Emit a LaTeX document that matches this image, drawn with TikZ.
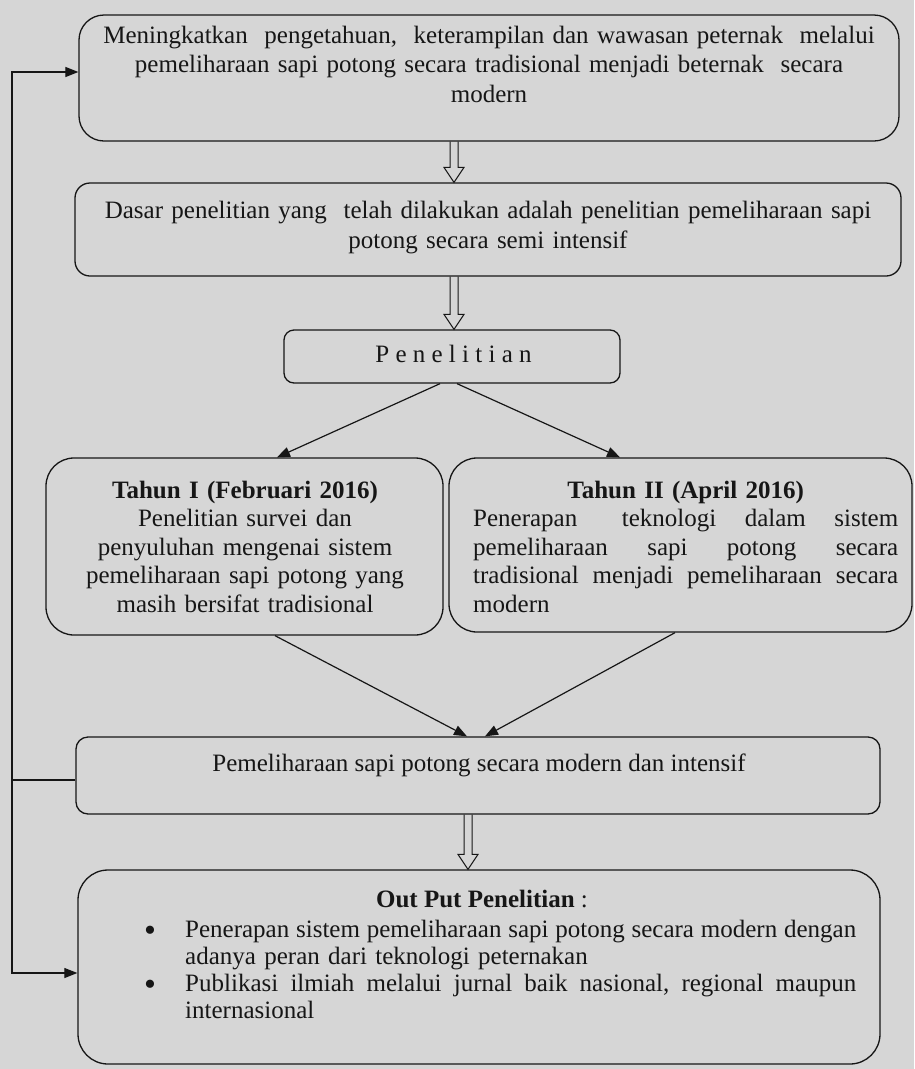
\documentclass[tikz,border=0pt]{standalone}
\usepackage{fontspec}
\setmainfont{Liberation Serif}
\usetikzlibrary{arrows.meta,calc,positioning}
\definecolor{kertas}{RGB}{214,214,214}
\definecolor{tinta}{RGB}{22,22,22}

\newcommand{\panahkosong}[3]{%
  \coordinate (pk) at (#1,0);
  \draw[garis kosong] ($(#2.south -| pk)+(-4,0)$) -- ($(#3.north -| pk)+(-4,-15)$) -- ++(-6,0) -- (#3.north -| pk) -- ($(#3.north -| pk)+(10,-15)$) -- ++(-6,0) -- ($(#2.south -| pk)+(4,0)$);}

\begin{document}
\begin{tikzpicture}[x=1pt, y=-1pt,
                    kotak/.style={draw=tinta, line width=1.3pt, inner sep=0pt},
                    teks/.style={text=tinta, inner sep=0pt, font=\fontsize{25}{28.5}\selectfont},
                    butir/.style={text=tinta, inner sep=0pt, font=\fontsize{34}{34}\selectfont, anchor=base},
                    panah/.style={draw=tinta, line width=1.2pt, -{Triangle[length=13pt,width=10pt]}},
                    garis/.style={draw=tinta, line width=1.2pt},
                    garis kosong/.style={draw=tinta, line width=1pt}]
                    \fill[kertas] (0,0) rectangle (914,1069);
                    \useasboundingbox (0,0) rectangle (914,1069);
                    \node[kotak, rounded corners=25pt, minimum width=820pt, minimum height=126pt] (tujuan) at (489,78) {};
                    \node[kotak, rounded corners=15pt, minimum width=826pt, minimum height=93pt] (dasar) at (488,229.5) {};
                    \node[kotak, rounded corners=10pt, minimum width=336pt, minimum height=53pt] (penelitian) at (452,356.5) {};
                    \node[kotak, rounded corners=28pt, minimum width=397pt, minimum height=177pt] (tahun1) at (244.5,546.5) {};
                    \node[kotak, rounded corners=28pt, minimum width=463pt, minimum height=174pt] (tahun2) at (680.5,545) {};
                    \node[kotak, rounded corners=12pt, minimum width=804pt, minimum height=77pt] (modern) at (478,775.5) {};
                    \node[kotak, rounded corners=30pt, minimum width=802pt, minimum height=194pt] (luaran) at (479,967) {};
                    \node[teks, font=\fontsize{25}{29.5}\selectfont, text width=810pt, align=center, anchor=base] (teks-tujuan) at (489,43)
                        {Meningkatkan\ \ pengetahuan,\ \ keterampilan dan wawasan peternak\ \ melalui\\
                         pemeliharaan sapi potong secara tradisional menjadi beternak\ \ secara\\
                         modern};
                    \node[teks, font=\fontsize{25}{30}\selectfont, text width=816pt, align=center, anchor=base] (teks-dasar) at (488,218)
                        {Dasar penelitian yang\ \ telah dilakukan adalah penelitian pemeliharaan sapi\\
                         potong secara semi intensif};
                    \node[teks, anchor=base] (teks-penelitian) at (453.5,362) {\addfontfeature{LetterSpace=25}Penelitian};
                    \node[teks, text width=390pt, align=center, anchor=base] (teks-tahun1) at (245,498)
                        {\textbf{Tahun I (Februari 2016)}\\
                         Penelitian survei dan\\
                         penyuluhan mengenai sistem\\
                         pemeliharaan sapi potong yang\\
                         masih bersifat tradisional};
                    \node[teks, text width=425pt, align=left, anchor=base west] (teks-tahun2) at (473,498)
                        {\makebox[425pt][c]{\textbf{Tahun II (April 2016)}}\\
                         \makebox[425pt][l]{Penerapan\hspace{16pt}\hfill teknologi\hfill dalam\hfill sistem}\\
                         \makebox[425pt][l]{pemeliharaan\hfill sapi\hfill potong\hfill secara}\\
                         \makebox[425pt][l]{tradisional\hfill menjadi\hfill pemeliharaan\hfill secara}\\
                         modern};
                    \node[teks, anchor=base] (teks-modern) at (479,771) {Pemeliharaan sapi potong secara modern dan intensif};
                    \node[teks, anchor=base] (judul-luaran) at (482,907) {\textbf{Out Put Penelitian} :};
                    \node[teks, font=\fontsize{25}{27}\selectfont, text width=671pt, align=left, anchor=base west] (teks-luaran) at (185,937)
                        {\makebox[671pt][l]{Penerapan\hfill sistem\hfill pemeliharaan\hfill sapi\hfill potong\hfill secara\hfill modern\hfill dengan}\\
                         adanya peran dari teknologi peternakan\\
                         \makebox[671pt][l]{Publikasi\hfill ilmiah\hfill melalui\hfill jurnal\hfill baik\hfill nasional,\hfill regional\hfill maupun}\\
                         internasional};
                    \node[butir] (butir1) at (150,941) {\textbullet};
                    \node[butir] (butir2) at (150,995) {\textbullet};
                    \panahkosong{454}{tujuan}{dasar}
                    \panahkosong{454}{dasar}{penelitian}
                    \panahkosong{468}{modern}{luaran}
                    \draw[panah] ($(penelitian.south)+(-12,0)$) -- ($(tahun1.north)+(32.5,0)$);
                    \draw[panah] ($(penelitian.south)+(5,0)$) -- ($(tahun2.north)+(-60.5,0)$);
                    \draw[panah] ($(tahun1.south)+(30.5,0)$) -- ($(modern.north)+(-11,0)$);
                    \draw[panah] ($(tahun2.south)+(-5.5,0)$) -- ($(modern.north)+(7,0)$);
                    \coordinate (kiri) at (12,0);
                    \coordinate (balik) at ($(modern.west)+(0,4.5)$);
                    \coordinate (masuk1) at ($(tujuan.west)+(0,-6)$);
                    \coordinate (masuk2) at ($(luaran.west)+(0,6)$);
                    \draw[garis] (balik) -- (balik -| kiri);
                    \draw[panah] (balik -| kiri) |- (masuk1);
                    \draw[panah] (balik -| kiri) |- (masuk2);
                \end{tikzpicture}
\end{document}
